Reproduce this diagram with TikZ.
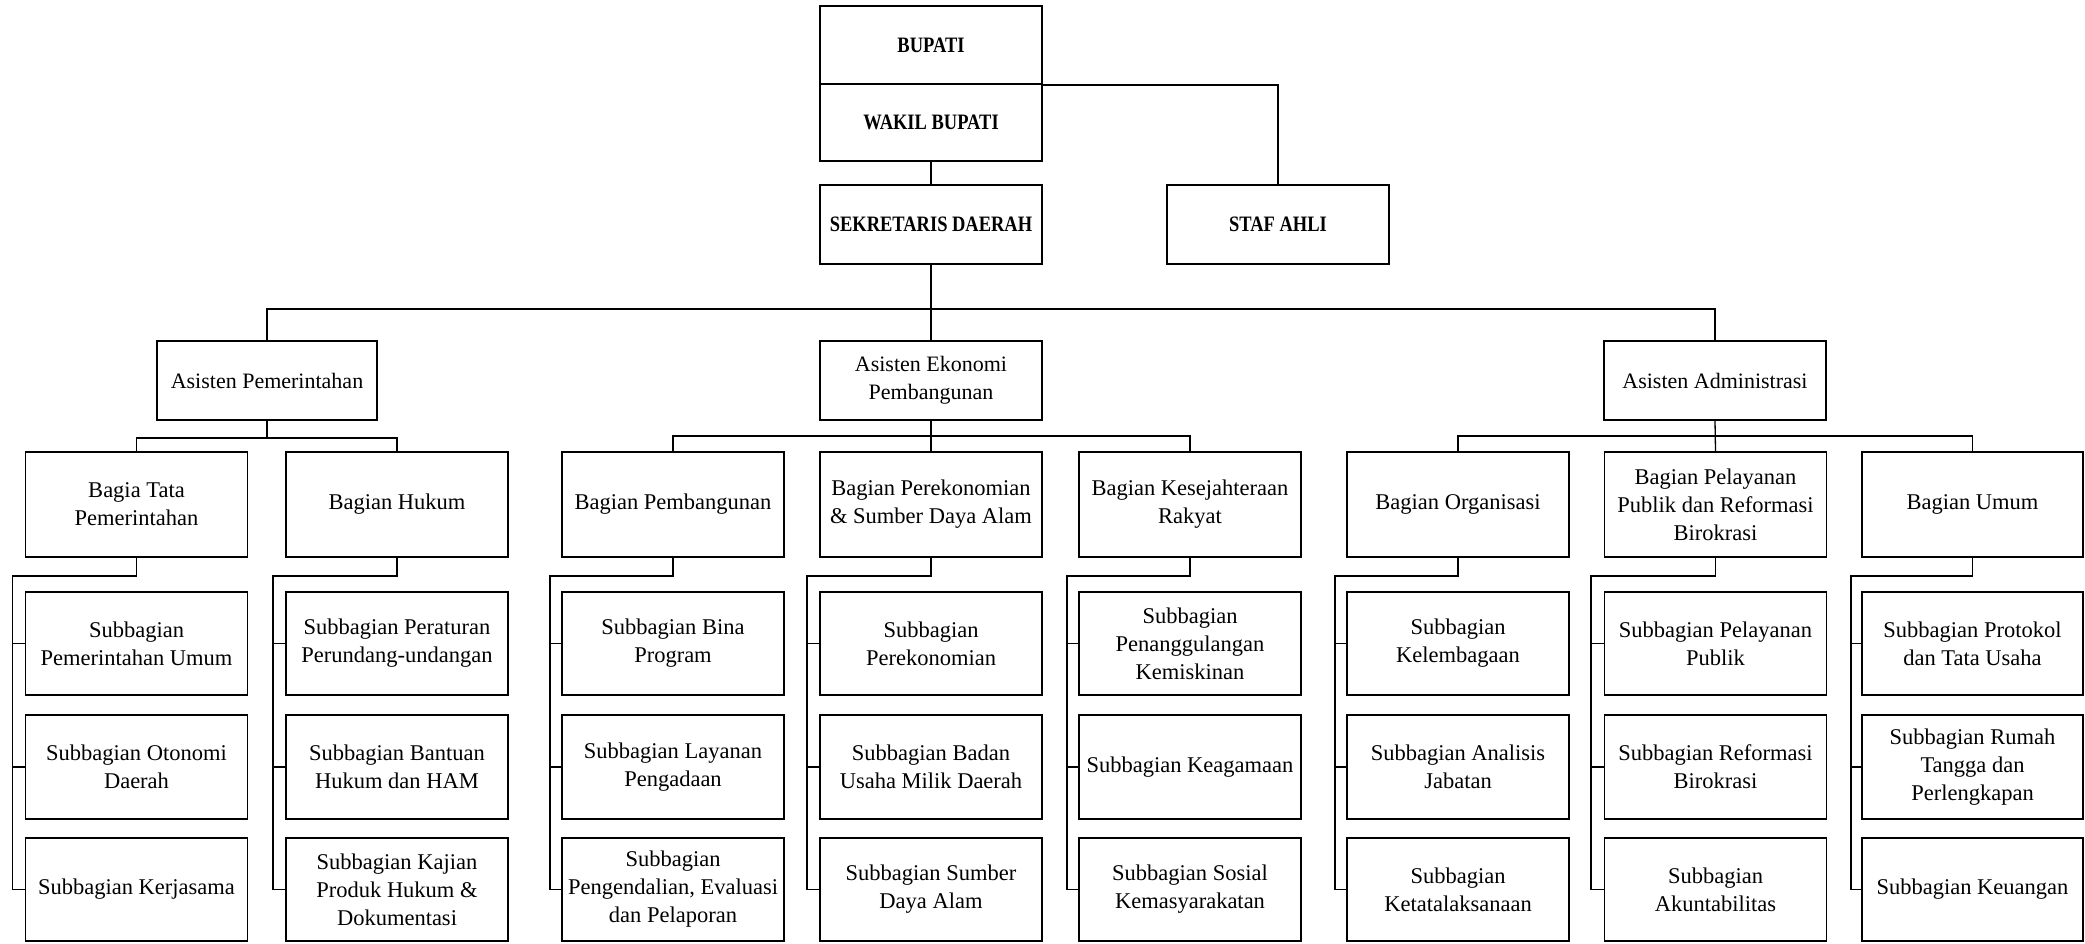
\documentclass[tikz,border=0pt]{standalone}
\usepackage{fontspec}
\setmainfont{Liberation Serif}
\newfontfamily\topfont{Liberation Serif}[FakeStretch=0.84]
\begin{document}
\begin{tikzpicture}[x=1pt,y=-1pt,
  box/.style={draw, line width=1.8pt, inner sep=2pt, align=center, minimum width=222pt, font=\fontsize{22.5}{28}\selectfont},
  topbox/.style={box, font=\topfont\bfseries\fontsize{22}{26}\selectfont},
  asbox/.style={box, font=\fontsize{22}{28}\selectfont, minimum height=79pt},
  bag/.style={box, minimum height=105pt},
  sub/.style={box, minimum height=103pt},
  conn/.style={line width=1.3pt}]
\useasboundingbox (0,0) rectangle (2085,944);
% top
\node[topbox, minimum height=78pt] (bupati) at (931,45) {BUPATI};
\node[topbox, minimum height=77pt] (wakil) at (931,122.5) {WAKIL BUPATI};
\node[topbox, minimum height=79pt] (sekda) at (931,224.5) {SEKRETARIS DAERAH};
\node[topbox, minimum height=79pt] (staf) at (1278,224.5) {STAF AHLI};
% asisten
\node[asbox, minimum width=220pt] (pem) at (267,380.5) {Asisten Pemerintahan};
\node[asbox] (ekon) at (931,380.5) {Asisten Ekonomi\\Pembangunan};
\node[asbox] (adm) at (1715,380.5) {Asisten Administrasi};
% bagian
\node[bag] (b1) at (136.5,504.5) {Bagia Tata\\Pemerintahan};
\node[bag] (b2) at (397,504.5) {Bagian Hukum};
\node[bag] (b3) at (673,504.5) {Bagian Pembangunan};
\node[bag] (b4) at (931,504.5) {Bagian Perekonomian\\\& Sumber Daya Alam};
\node[bag] (b5) at (1190,504.5) {Bagian Kesejahteraan\\Rakyat};
\node[bag] (b6) at (1458,504.5) {Bagian Organisasi};
\node[bag] (b7) at (1715.5,504.5) {Bagian Pelayanan\\Publik dan Reformasi\\Birokrasi};
\node[bag, minimum width=221pt] (b8) at (1972.5,504.5) {Bagian Umum};
% sub row 1
\node[sub] (s11) at (136.5,643.5) {Subbagian\\Pemerintahan Umum};
\node[sub] (s21) at (397,643.5) {Subbagian Peraturan\\Perundang-undangan};
\node[sub] (s31) at (673,643.5) {Subbagian Bina\\Program};
\node[sub] (s41) at (931,643.5) {Subbagian\\Perekonomian};
\node[sub] (s51) at (1190,643.5) {Subbagian\\Penanggulangan\\Kemiskinan};
\node[sub] (s61) at (1458,643.5) {Subbagian\\Kelembagaan};
\node[sub] (s71) at (1715.5,643.5) {Subbagian Pelayanan\\Publik};
\node[sub, minimum width=221pt] (s81) at (1972.5,643.5) {Subbagian Protokol\\dan Tata Usaha};
% sub row 2
\node[sub, minimum height=104pt] (s12) at (136.5,767) {Subbagian Otonomi\\Daerah};
\node[sub, minimum height=104pt] (s22) at (397,767) {Subbagian Bantuan\\Hukum dan HAM};
\node[sub, minimum height=104pt] (s32) at (673,767) {Subbagian Layanan\\Pengadaan};
\node[sub, minimum height=104pt] (s42) at (931,767) {Subbagian Badan\\Usaha Milik Daerah};
\node[sub, minimum height=104pt] (s52) at (1190,767) {Subbagian Keagamaan};
\node[sub, minimum height=104pt] (s62) at (1458,767) {Subbagian Analisis\\Jabatan};
\node[sub, minimum height=104pt] (s72) at (1715.5,767) {Subbagian Reformasi\\Birokrasi};
\node[sub, minimum height=104pt, minimum width=221pt] (s82) at (1972.5,767) {Subbagian Rumah\\Tangga dan\\Perlengkapan};
% sub row 3
\node[sub] (s13) at (136.5,889.5) {Subbagian Kerjasama};
\node[sub] (s23) at (397,889.5) {Subbagian Kajian\\Produk Hukum \&\\Dokumentasi};
\node[sub] (s33) at (673,889.5) {Subbagian\\Pengendalian, Evaluasi\\dan Pelaporan};
\node[sub] (s43) at (931,889.5) {Subbagian Sumber\\Daya Alam};
\node[sub] (s53) at (1190,889.5) {Subbagian Sosial\\Kemasyarakatan};
\node[sub] (s63) at (1458,889.5) {Subbagian\\Ketatalaksanaan};
\node[sub] (s73) at (1715.5,889.5) {Subbagian\\Akuntabilitas};
\node[sub, minimum width=221pt] (s83) at (1972.5,889.5) {Subbagian Keuangan};
% connectors top
\draw[conn] (bupati.south east) -| (staf.north);
\draw[conn] (wakil.south) -- (sekda.north);
\draw[conn] (sekda.south) -- (ekon.north);
\coordinate (bus) at (931,309);
\draw[conn] (pem.north) |- (bus) -| (adm.north);
% asisten to bagian
\coordinate (pembus) at (267,438);
\coordinate (ekbus) at (931,436);
\coordinate (adbus) at (1715,436);
\draw[conn] (pem.south) -- (pembus);
\draw[conn] (b1.north) |- (pembus) -| (b2.north);
\draw[conn] (ekon.south) -- (b4.north);
\draw[conn] (b3.north) |- (ekbus) -| (b5.north);
\draw[conn] (adm.south) -- (b7.north);
\draw[conn] (b6.north) |- (adbus) -| (b8.north);
% bagian to subbagian
\foreach \i/\tx in {1/12.5,2/273,3/550,4/807,5/1067,6/1335,7/1591,8/1851}{
  \coordinate (t\i) at (\tx,576);
  \draw[conn] (b\i.south) |- (t\i) |- (s\i3.west);
  \draw[conn] (s\i1.west -| t\i) -- (s\i1.west);
  \draw[conn] (s\i2.west -| t\i) -- (s\i2.west);
}
\end{tikzpicture}
\end{document}
